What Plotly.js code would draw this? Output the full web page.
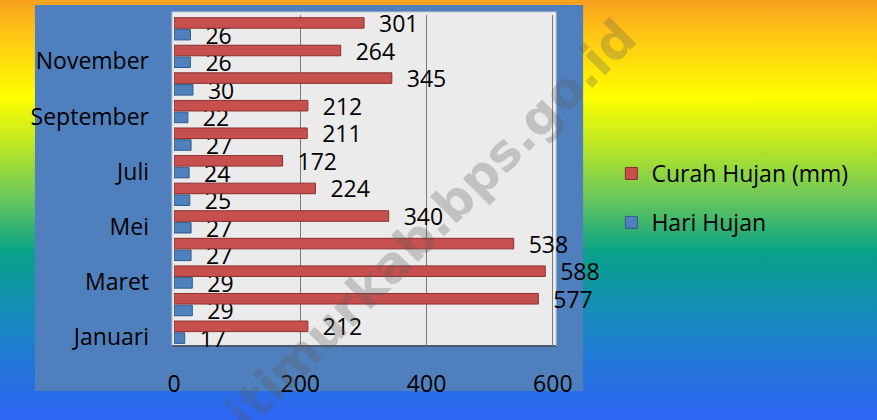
<!DOCTYPE html>
<html>
<head>
<meta charset="utf-8">
<script src="https://cdn.plot.ly/plotly-3.0.1.min.js"></script>
<style>
html,body{margin:0;padding:0;}
#chart{width:877px;height:420px;
background:linear-gradient(to bottom,#f7a01e 0%,#ffc414 8%,#ffff00 23%,#c6eb1f 33%,#6bc75a 47%,#08a287 60%,#1193b0 71%,#2277d8 86%,#2f66f5 100%);}
</style>
</head>
<body>
<div id="chart"></div>
<script>
const months = ["Januari","Februari","Maret","April","Mei","Juni","Juli","Agustus","September","Oktober","November","Desember"];
const curahHujan = [212,577,588,538,340,224,172,211,212,345,264,301];
const hariHujan = [17,29,29,27,27,25,24,27,22,30,26,26];
const monthTicks = ["Januari","Maret","Mei","Juli","September","November"];
const xTicks = [0,200,400,600];
const seriesNames = ["Curah Hujan (mm)","Hari Hujan"];

const FONT = "Open Sans, Noto Sans, sans-serif";
const FS = 23;

const traces = [
  {
    type:"bar", orientation:"h", name:seriesNames[1], legendgroup:"b", legendrank:2,
    y:months, x:hariHujan,
    marker:{color:"#4f81bd", line:{color:"#2f5a8e", width:1}},
    texttemplate:"\u00a0\u00a0%{x}",
    textposition:"outside", cliponaxis:false, constraintext:"none",
    outsidetextfont:{family:FONT, size:FS, color:"#000"},
    hoverinfo:"none"
  },
  {
    type:"bar", orientation:"h", name:seriesNames[0], legendgroup:"a", legendrank:1,
    y:months, x:curahHujan,
    marker:{color:"#c6504e", line:{color:"#8c2f2d", width:1}},
    texttemplate:"\u00a0\u00a0%{x}",
    textposition:"outside", cliponaxis:false, constraintext:"none",
    outsidetextfont:{family:FONT, size:FS, color:"#000"},
    hoverinfo:"none"
  }
];

const layout = {
  width:877, height:420,
  margin:{l:174, r:321, t:15, b:74, pad:0},
  paper_bgcolor:"rgba(0,0,0,0)",
  plot_bgcolor:"#ebebeb",
  font:{family:FONT, size:FS, color:"#000"},
  barmode:"group", bargap:0.15, bargroupgap:0.1,
  showlegend:true,
  legend:{x:1.145, xanchor:"left", y:0.447, yanchor:"middle",
    traceorder:"grouped", tracegroupgap:16,
    bgcolor:"rgba(0,0,0,0)", font:{family:FONT, size:FS, color:"#000"}},
  xaxis:{range:[0,605], tickvals:xTicks, ticktext:xTicks.map(String),
    showgrid:true, gridcolor:"#7a7a7a", gridwidth:1, zeroline:false,
    showline:false, ticks:"", ticklabelstandoff:22,
    tickfont:{family:FONT, size:FS, color:"#000"}, fixedrange:true},
  yaxis:{type:"category", tickvals:monthTicks, ticktext:monthTicks,
    showgrid:false, zeroline:false, showline:false, ticks:"",
    ticklabelstandoff:24, ticklabelshift:5,
    tickfont:{family:FONT, size:FS, color:"#000"}, fixedrange:true},
  shapes:[
    {type:"rect", xref:"paper", yref:"paper", x0:-0.364, x1:1.071, y0:-0.136, y1:1.030,
     fillcolor:"#4f80bd", line:{width:0}, layer:"below"},
    {type:"rect", xref:"paper", yref:"paper", x0:-0.005, x1:1, y0:0, y1:1.009,
     fillcolor:"#ebebeb", line:{color:"#c9ced6", width:1}, layer:"below"},
    {type:"line", xref:"paper", yref:"paper", x0:-0.005, x1:1, y0:0, y1:0,
     line:{color:"#4d5a6e", width:2}, layer:"below"}
  ],
  annotations:[
    {text:"kutaitimurkab.bps.go.id", xref:"paper", yref:"paper", x:0.555, y:0.23,
     xanchor:"center", yanchor:"middle",
     showarrow:false, textangle:-45,
     font:{family:"DejaVu Sans, sans-serif", size:50, color:"rgba(90,90,90,0.28)", weight:"bold"}}
  ]
};

Plotly.newPlot("chart", traces, layout, {displayModeBar:false, staticPlot:true});
</script>
</body>
</html>
